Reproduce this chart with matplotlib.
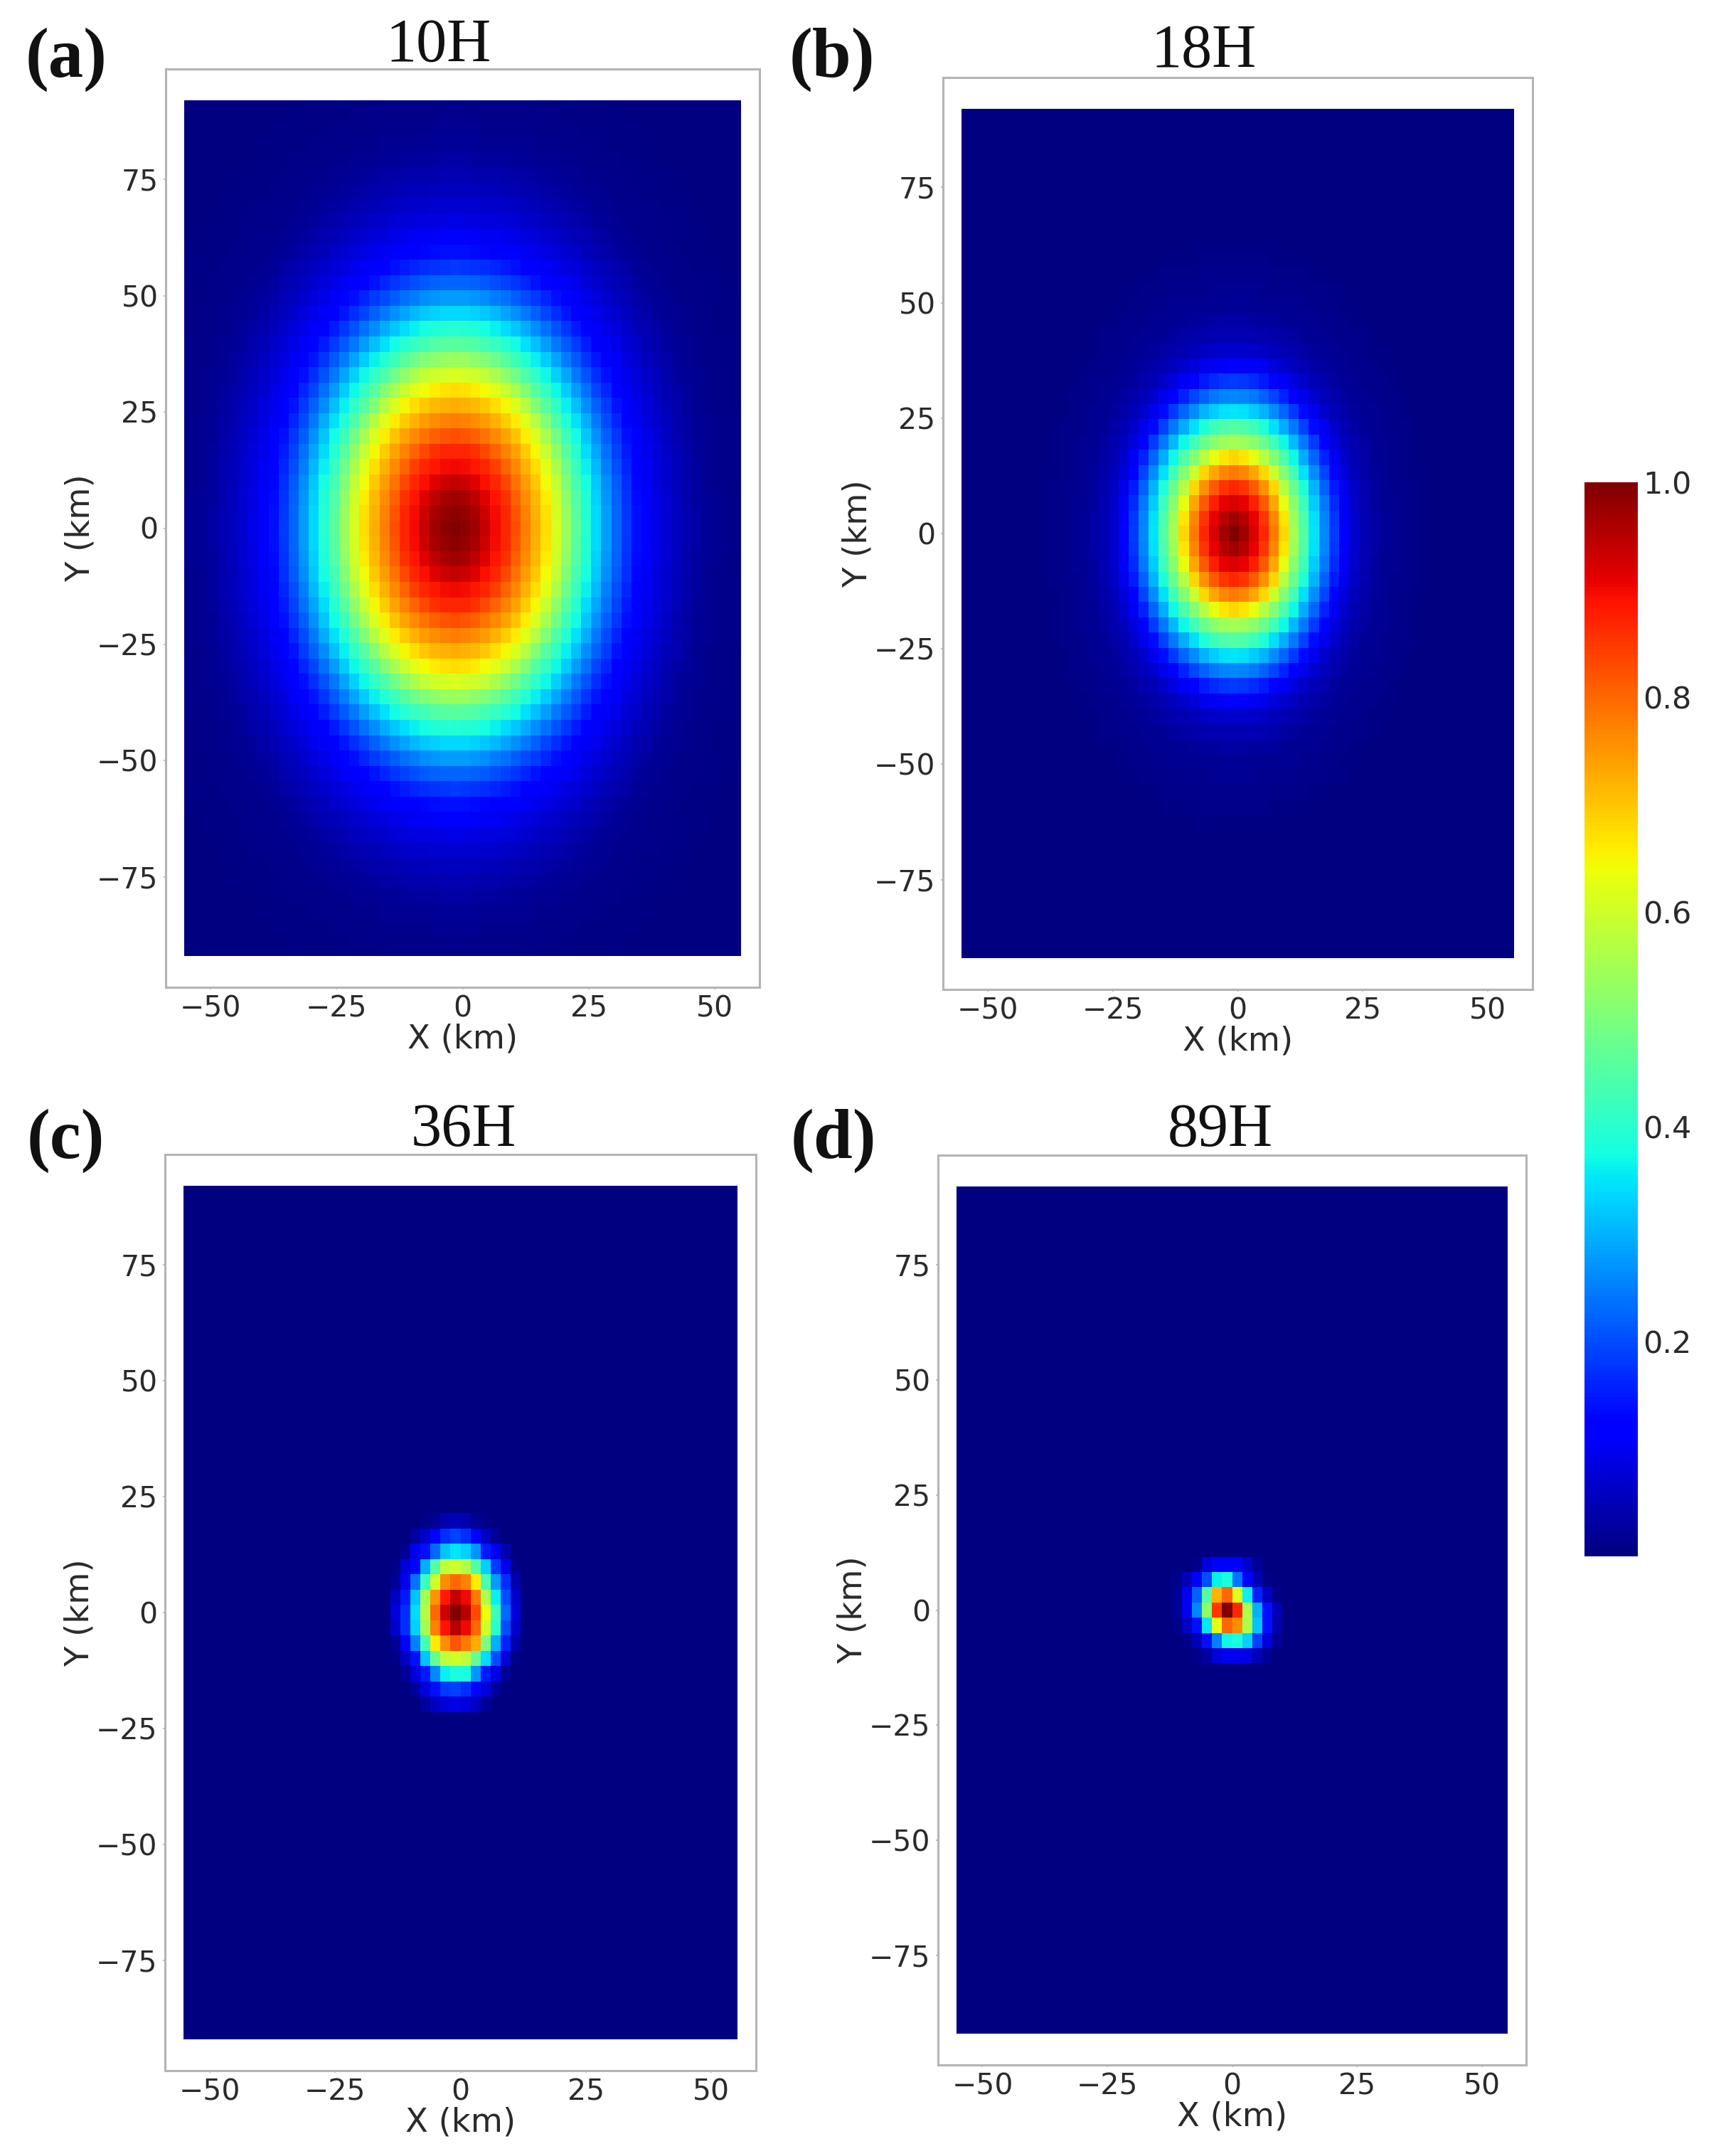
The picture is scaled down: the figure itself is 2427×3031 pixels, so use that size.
import numpy as np
import matplotlib
matplotlib.use("Agg")
import matplotlib.pyplot as plt

W, H = 2427, 3031

titles = ["10H", "18H", "36H", "89H"]
panel_tags = ["(a)", "(b)", "(c)", "(d)"]
x_ticks = [-50, -25, 0, 25, 50]
y_ticks = [-75, -50, -25, 0, 25, 50, 75]
cbar_ticks = [0.2, 0.4, 0.6, 0.8, 1.0]

# Panels a and b: value along the centre row, read at distances (km) from the peak
a_dist = [0, 4, 6, 8, 10.7, 12.9, 15, 17, 18.8, 21, 22.9, 24.8, 26.9, 29, 31, 33, 35, 37, 41, 45, 50, 55, 65]
a_vals = [1.0, .97, .94, .90, .86, .80, .75, .70, .65, .58, .50, .43, .37, .31, .25, .20, .16, .12, .08, .05, .02, .01, .003]
a_aspect = 1.65
b_dist = [0, 2, 4, 6, 8, 10, 12, 14, 16, 18, 20, 22, 24, 26, 30, 40]
b_vals = [1.0, .97, .92, .87, .78, .68, .55, .45, .35, .26, .18, .11, .07, .045, .02, .002]
b_aspect = 1.65

# Panel c: cells, top to bottom; centre cell is row 6, col 6
c_cells = [
 [0, 0, 0, .01, .02, .04, .05, .04, .02, .01, 0, 0, 0],
 [0, 0, .03, .07, .12, .17, .19, .17, .12, .06, .02, 0, 0],
 [0, .02, .10, .14, .23, .32, .35, .33, .27, .15, .10, .04, 0],
 [.01, .08, .13, .30, .45, .58, .60, .56, .45, .33, .18, .10, .01],
 [.02, .10, .24, .42, .60, .76, .80, .77, .66, .44, .28, .17, .04],
 [.06, .15, .32, .55, .75, .88, .94, .90, .78, .56, .36, .20, .07],
 [.08, .17, .34, .57, .80, .93, 1.0, .95, .83, .64, .42, .23, .08],
 [.07, .17, .33, .55, .77, .89, .95, .90, .80, .60, .40, .20, .07],
 [.02, .12, .25, .43, .66, .76, .82, .78, .73, .50, .30, .16, .04],
 [.01, .06, .14, .32, .47, .58, .60, .58, .47, .34, .20, .08, .01],
 [0, .02, .08, .15, .26, .36, .38, .38, .27, .15, .09, .02, 0],
 [0, 0, .03, .08, .14, .18, .19, .17, .13, .08, .03, 0, 0],
 [0, 0, 0, .03, .06, .08, .09, .08, .06, .02, 0, 0, 0],
]
# Panel d: cells; centre cell is row 3, col 5
d_cells = [
 [0, 0, .01, .08, .11, .12, .11, .07, .02, 0, 0],
 [.01, .05, .12, .20, .36, .38, .24, .12, .05, .01, 0],
 [.02, .10, .22, .45, .72, .80, .62, .36, .16, .06, .01],
 [.02, .10, .26, .52, .85, 1.0, .87, .56, .30, .14, .05],
 [.01, .06, .14, .35, .63, .80, .76, .56, .32, .14, .04],
 [0, .01, .05, .14, .25, .37, .38, .33, .19, .08, .02],
 [0, 0, .01, .03, .08, .10, .10, .09, .05, .02, 0],
]

col_w, row_h = 2.0, 3.3
# centre cell of each panel in km (x, y)
peak_xy = [(-1.5, 0.0), (-0.8, 0.0), (-1.0, 0.0), (-1.0, 0.0)]
XLIM, YLIM = 55.2, 92.0

def grid(px, py):
    xc = px + np.arange(-30, 31) * col_w
    yc = py + np.arange(-30, 31) * row_h
    xe = np.clip(np.r_[xc - col_w / 2, xc[-1] + col_w / 2], -XLIM, XLIM)
    ye = np.clip(np.r_[yc - row_h / 2, yc[-1] + row_h / 2], -YLIM, YLIM)
    return xc, yc, xe, ye

def rings(dist, vals, aspect, px, py):
    xc, yc, xe, ye = grid(px, py)
    X, Y = np.meshgrid(xc - px, yc - py)
    return xe, ye, np.interp(np.hypot(X, Y / aspect), dist, vals)

def placed(cells, px, py):
    xc, yc, xe, ye = grid(px, py)
    m = np.array(cells, float)
    Z = np.zeros((len(yc), len(xc)))
    nr, nc = m.shape
    for r in range(nr):
        for c in range(nc):
            Z[30 + nr // 2 - r, 30 - nc // 2 + c] = m[r, c]
    return xe, ye, Z

fields = [rings(a_dist, a_vals, a_aspect, *peak_xy[0]),
          rings(b_dist, b_vals, b_aspect, *peak_xy[1]),
          placed(c_cells, *peak_xy[2]),
          placed(d_cells, *peak_xy[3])]

frames = [(233, 1068, 97, 1388), (1326, 2155, 109, 1391), (232, 1063, 1623, 2911), (1319, 2146, 1624, 2903)]
title_xy = [(617, 65), (1692, 73), (652, 1590), (1716, 1590)]
tag_xy = [(93, 84), (1170, 84), (92, 1604), (1172, 1604)]

fig = plt.figure(figsize=(W / 100, H / 100), dpi=100, facecolor="white")
def box(l, r, t, b):
    return [l / W, 1 - b / H, (r - l) / W, (b - t) / H]

GREY = "#b4b4b4"
TXT = "#2a2a2a"
for i, (xe, ye, Z) in enumerate(fields):
    ax = fig.add_axes(box(*frames[i]))
    mesh = ax.pcolormesh(xe, ye, Z, cmap="jet", vmin=0, vmax=1, linewidth=0, rasterized=True)
    ax.set_xlim(-58.9, 58.9)
    ax.set_ylim(-98.8, 98.8)
    ax.set_xticks(x_ticks)
    ax.set_yticks(y_ticks)
    ax.tick_params(length=2.5, width=1.2, color=GREY, labelsize=29.5, labelcolor=TXT, pad=5)
    for s in ax.spines.values():
        s.set_color(GREY)
        s.set_linewidth(2.2)
    ax.set_xlabel("X (km)", fontsize=33.5, color=TXT, labelpad=0)
    ax.set_ylabel("Y (km)", fontsize=33.5, color=TXT, labelpad=0)
    tx, ty = title_xy[i]
    fig.text(tx / W, 1 - ty / H, titles[i], family="Liberation Serif", fontsize=62,
             ha="center", va="center", color="#111111")
    gx, gy = tag_xy[i]
    fig.text(gx / W, 1 - gy / H, panel_tags[i], family="Liberation Serif", fontweight="bold",
             fontsize=71, ha="center", va="center", color="#111111")

cax = fig.add_axes(box(2228, 2303, 678, 2188))
cb = fig.colorbar(mesh, cax=cax, ticks=cbar_ticks)
cb.ax.tick_params(length=0, labelsize=31, labelcolor=TXT, pad=5)
cb.outline.set_visible(False)

fig.savefig("out.png", dpi=100)
